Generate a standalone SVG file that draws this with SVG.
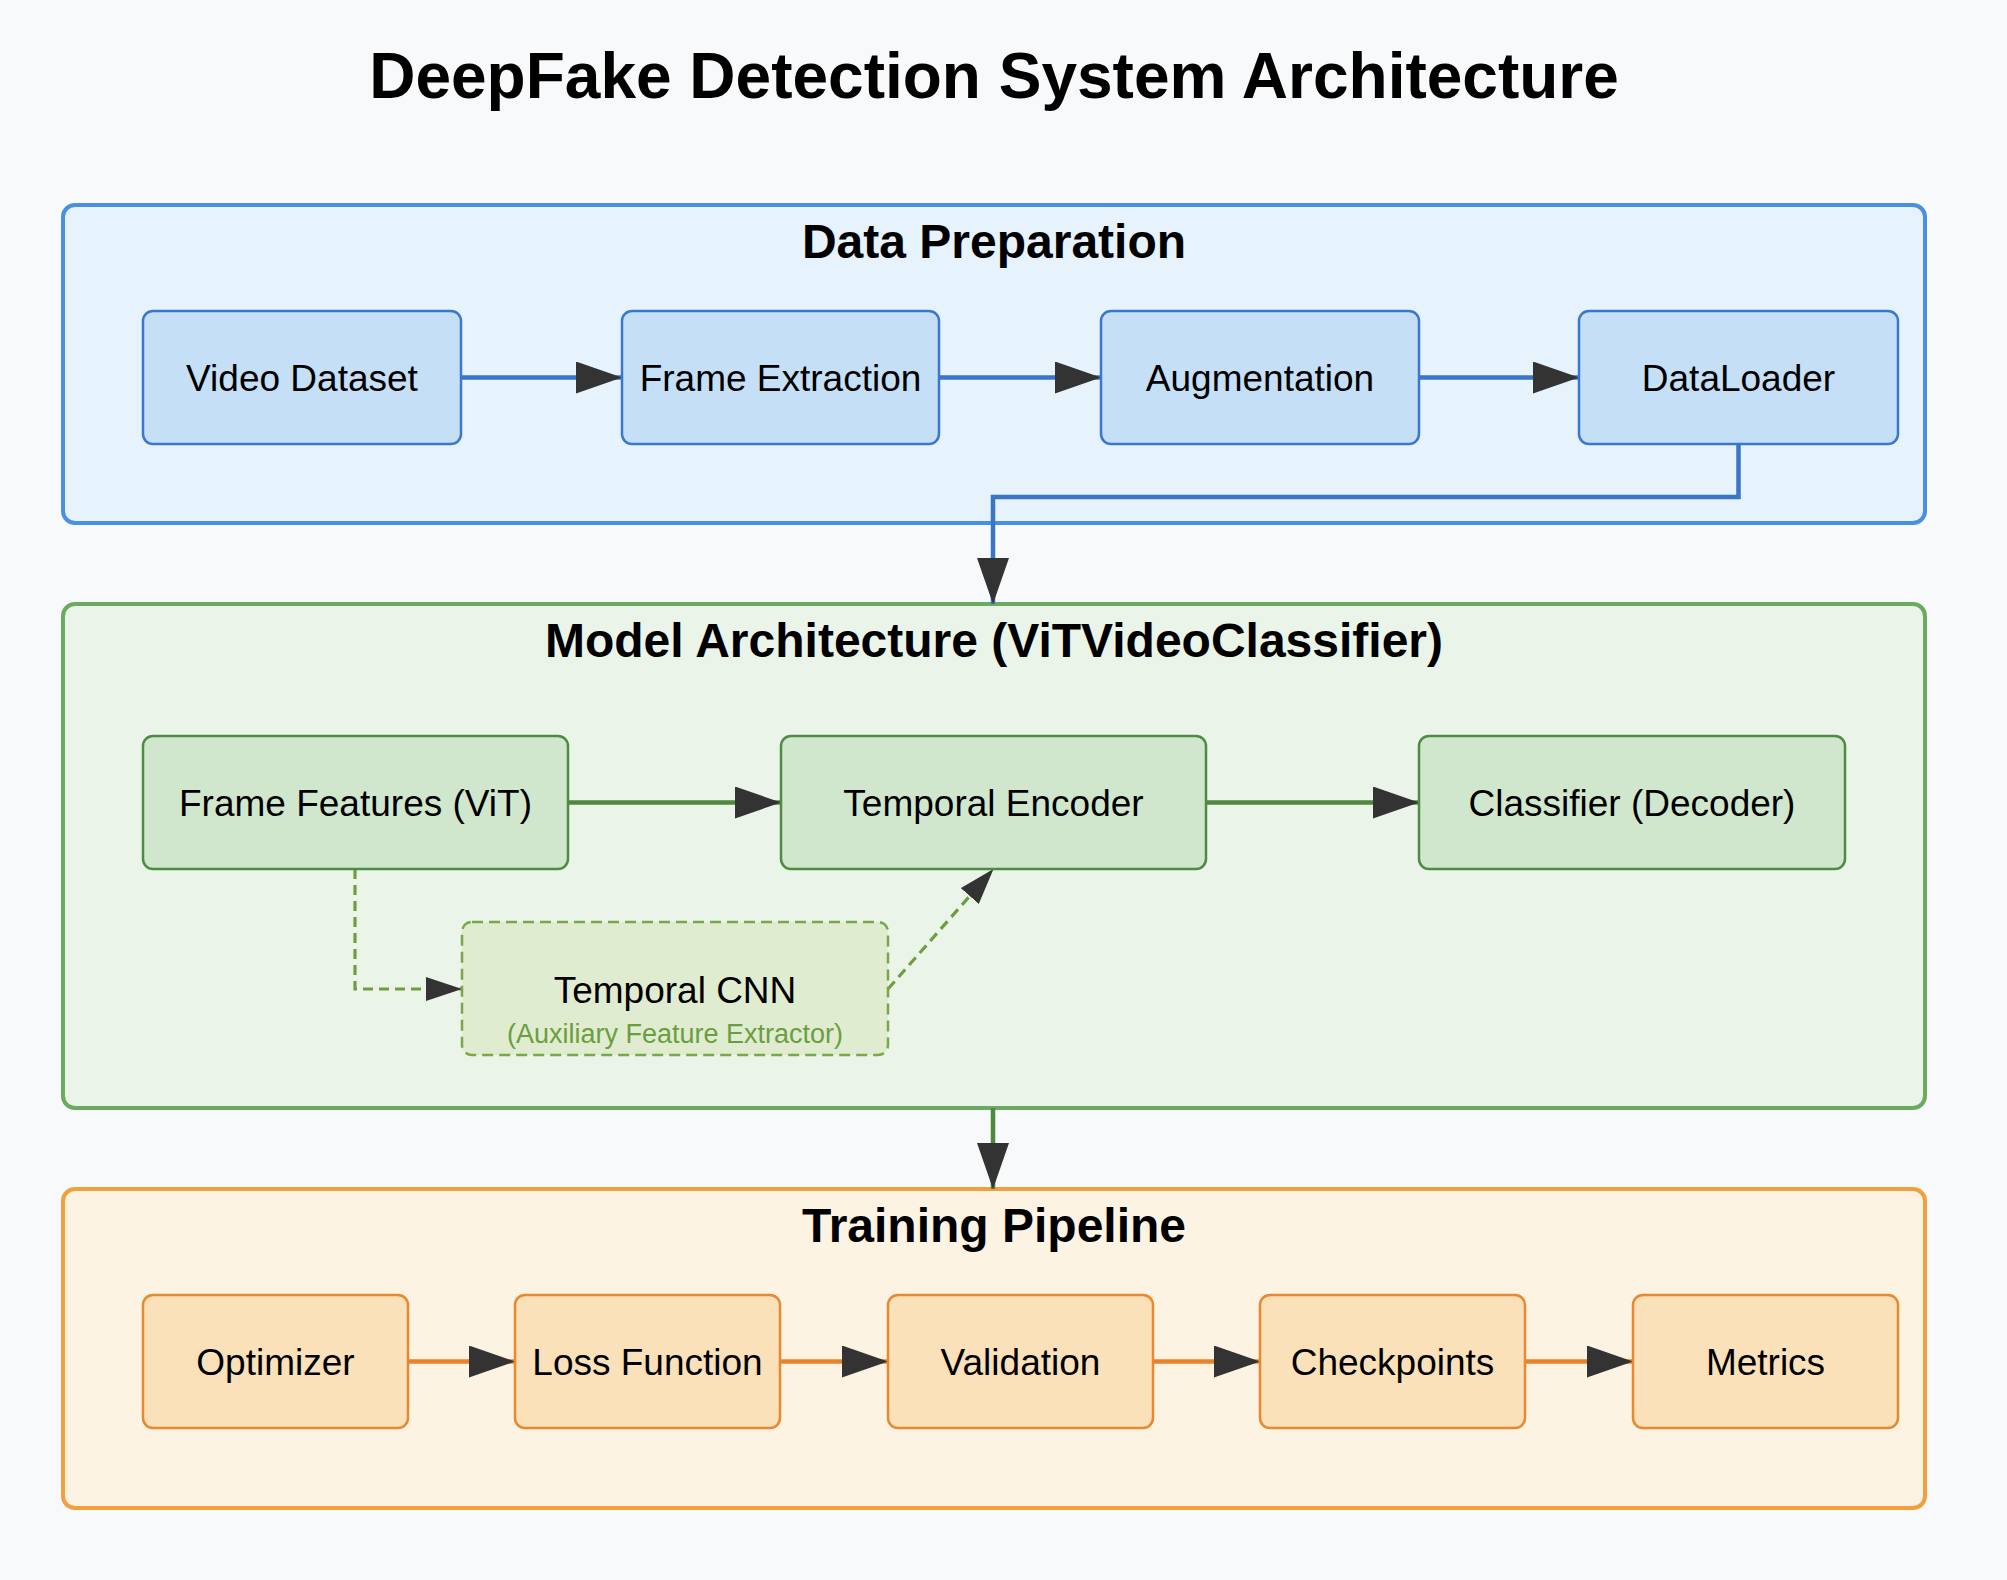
<svg xmlns="http://www.w3.org/2000/svg" width="2007" height="1580" viewBox="0 0 2007 1580">
  <defs>
    <style>
      text { font-family: "Liberation Sans", Arial, Helvetica, sans-serif; fill: #000; text-anchor: middle; }
      .title { font-size: 64px; font-weight: bold; }
      .gtitle { font-size: 48px; font-weight: bold; }
      .lbl { font-size: 37px; }
      .sub { font-size: 27px; fill: #6b9e3f; }
      .grp { stroke-width: 4; }
      .g-blue { fill: #e6f2fc; stroke: #4a90e2; }
      .g-green { fill: #eaf4e8; stroke: #6aab60; }
      .g-orange { fill: #fdf3e3; stroke: #f2a03e; }
      .node { stroke-width: 2.5; }
      .n-blue { fill: #c4dff6; stroke: #3a78d0; }
      .n-green { fill: #d1e7cd; stroke: #4e8c44; }
      .n-orange { fill: #fae1ba; stroke: #e8892f; }
      .n-aux { fill: #dfecd0; stroke: #78a84a; stroke-dasharray: 11 6; }
      .c { fill: none; stroke-width: 4.5; }
      .c-blue { stroke: #3a75c8; }
      .c-green { stroke: #4e8a3e; }
      .c-orange { stroke: #e8832a; }
      .c-dash { fill: none; stroke: #6f9e40; stroke-width: 3.2; stroke-dasharray: 10 6; }
    </style>
    <marker id="ah" markerUnits="userSpaceOnUse" markerWidth="46" markerHeight="32" refX="46" refY="16" orient="auto">
      <path d="M0,0 L46,16 L0,32 Z" fill="#333"/>
    </marker>
    <marker id="ahs" markerUnits="userSpaceOnUse" markerWidth="36" markerHeight="24" refX="36" refY="12" orient="auto">
      <path d="M0,0 L36,12 L0,24 Z" fill="#333"/>
    </marker>
  </defs>

  <rect width="2007" height="1580" fill="#f7f9fb"/>

  <text class="title" x="994" y="98">DeepFake Detection System Architecture</text>

  <g id="group-data">
    <rect class="grp g-blue" x="63" y="205" width="1862" height="318" rx="12"/>
    <text class="gtitle" x="994" y="258">Data Preparation</text>
  </g>
  <g id="group-model">
    <rect class="grp g-green" x="63" y="604" width="1862" height="504" rx="12"/>
    <text class="gtitle" x="994" y="657">Model Architecture (ViTVideoClassifier)</text>
  </g>
  <g id="group-training">
    <rect class="grp g-orange" x="63" y="1189" width="1862" height="319" rx="12"/>
    <text class="gtitle" x="994" y="1242">Training Pipeline</text>
  </g>

  <g id="connectors">
    <line class="c c-blue" x1="461" y1="377.5" x2="622" y2="377.5" marker-end="url(#ah)"/>
    <line class="c c-blue" x1="939" y1="377.5" x2="1101" y2="377.5" marker-end="url(#ah)"/>
    <line class="c c-blue" x1="1419" y1="377.5" x2="1579" y2="377.5" marker-end="url(#ah)"/>
    <polyline class="c c-blue" points="1738.5,444 1738.5,497 993,497 993,604" marker-end="url(#ah)"/>

    <line class="c c-green" x1="568" y1="802.5" x2="781" y2="802.5" marker-end="url(#ah)"/>
    <line class="c c-green" x1="1206" y1="802.5" x2="1419" y2="802.5" marker-end="url(#ah)"/>
    <polyline class="c-dash" points="355,869 355,989 462,989" marker-end="url(#ahs)"/>
    <line class="c-dash" x1="888" y1="989" x2="993.5" y2="869" marker-end="url(#ahs)"/>
    <line class="c c-green" x1="993" y1="1108" x2="993" y2="1189" marker-end="url(#ah)"/>

    <line class="c c-orange" x1="408" y1="1361.5" x2="515" y2="1361.5" marker-end="url(#ah)"/>
    <line class="c c-orange" x1="780" y1="1361.5" x2="888" y2="1361.5" marker-end="url(#ah)"/>
    <line class="c c-orange" x1="1153" y1="1361.5" x2="1260" y2="1361.5" marker-end="url(#ah)"/>
    <line class="c c-orange" x1="1525" y1="1361.5" x2="1633" y2="1361.5" marker-end="url(#ah)"/>
  </g>

  <g id="node-video-dataset">
    <rect class="node n-blue" x="143" y="311" width="318" height="133" rx="10"/>
    <text class="lbl" x="302" y="391">Video Dataset</text>
  </g>
  <g id="node-frame-extraction">
    <rect class="node n-blue" x="622" y="311" width="317" height="133" rx="10"/>
    <text class="lbl" x="780.5" y="391">Frame Extraction</text>
  </g>
  <g id="node-augmentation">
    <rect class="node n-blue" x="1101" y="311" width="318" height="133" rx="10"/>
    <text class="lbl" x="1260" y="391">Augmentation</text>
  </g>
  <g id="node-dataloader">
    <rect class="node n-blue" x="1579" y="311" width="319" height="133" rx="10"/>
    <text class="lbl" x="1738.5" y="391">DataLoader</text>
  </g>

  <g id="node-frame-features">
    <rect class="node n-green" x="143" y="736" width="425" height="133" rx="10"/>
    <text class="lbl" x="355.5" y="816">Frame Features (ViT)</text>
  </g>
  <g id="node-temporal-encoder">
    <rect class="node n-green" x="781" y="736" width="425" height="133" rx="10"/>
    <text class="lbl" x="993.5" y="816">Temporal Encoder</text>
  </g>
  <g id="node-classifier">
    <rect class="node n-green" x="1419" y="736" width="426" height="133" rx="10"/>
    <text class="lbl" x="1632" y="816">Classifier (Decoder)</text>
  </g>
  <g id="node-temporal-cnn">
    <rect class="node n-aux" x="462" y="922" width="426" height="133" rx="10"/>
    <text class="lbl" x="675" y="1003">Temporal CNN</text>
    <text class="sub" x="675" y="1043">(Auxiliary Feature Extractor)</text>
  </g>

  <g id="node-optimizer">
    <rect class="node n-orange" x="143" y="1295" width="265" height="133" rx="10"/>
    <text class="lbl" x="275.5" y="1375">Optimizer</text>
  </g>
  <g id="node-loss-function">
    <rect class="node n-orange" x="515" y="1295" width="265" height="133" rx="10"/>
    <text class="lbl" x="647.5" y="1375">Loss Function</text>
  </g>
  <g id="node-validation">
    <rect class="node n-orange" x="888" y="1295" width="265" height="133" rx="10"/>
    <text class="lbl" x="1020.5" y="1375">Validation</text>
  </g>
  <g id="node-checkpoints">
    <rect class="node n-orange" x="1260" y="1295" width="265" height="133" rx="10"/>
    <text class="lbl" x="1392.5" y="1375">Checkpoints</text>
  </g>
  <g id="node-metrics">
    <rect class="node n-orange" x="1633" y="1295" width="265" height="133" rx="10"/>
    <text class="lbl" x="1765.5" y="1375">Metrics</text>
  </g>
</svg>
